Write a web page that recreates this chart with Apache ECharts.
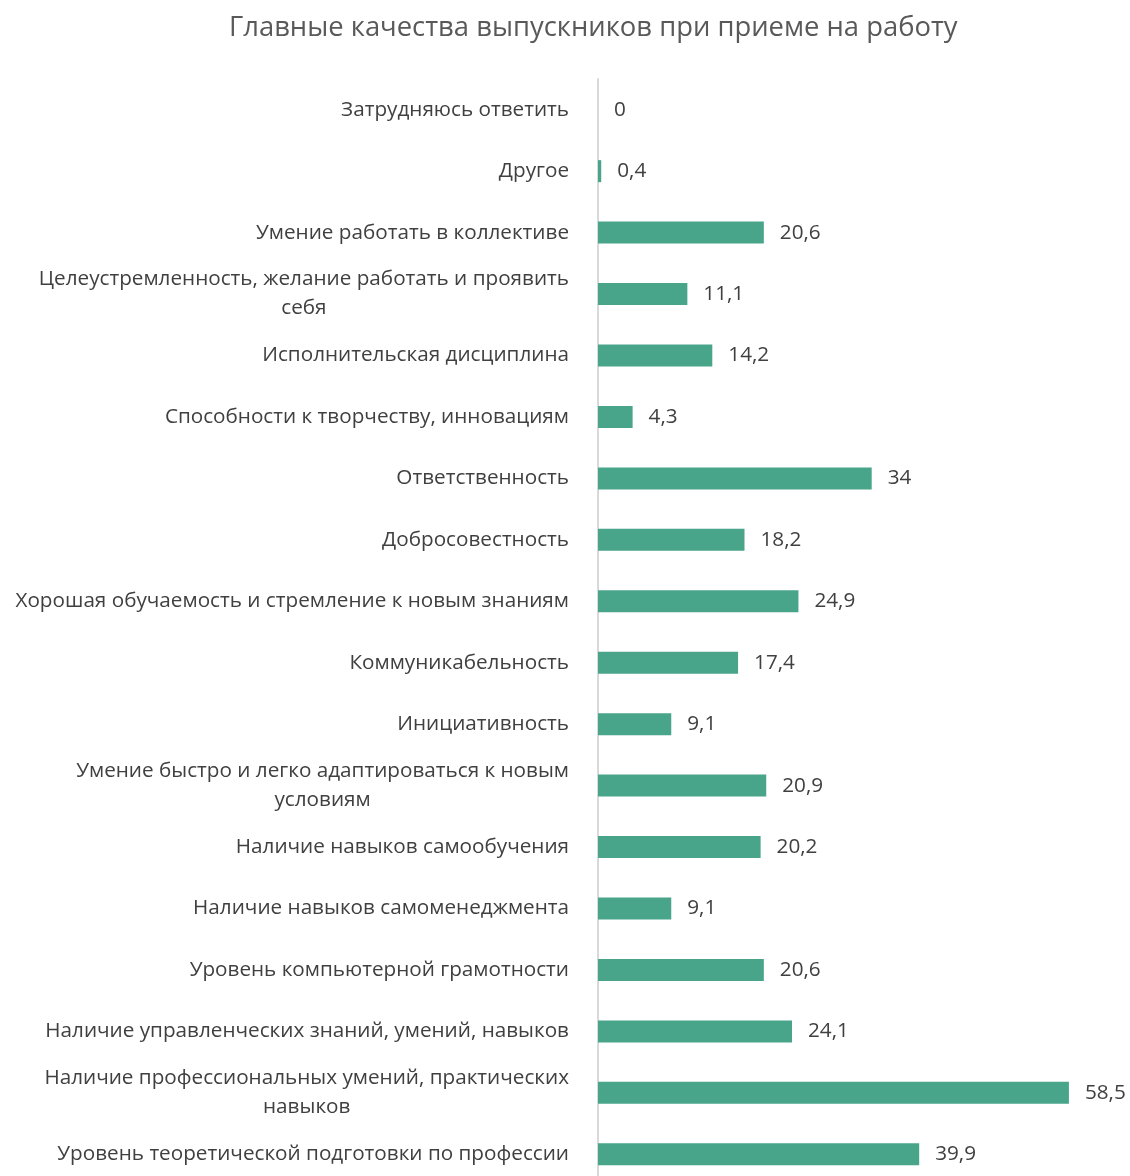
<!DOCTYPE html>
<html>
<head>
<meta charset="utf-8">
<script src="https://cdn.jsdelivr.net/npm/echarts@6/dist/echarts.min.js"></script>
<style>
  html, body { margin: 0; padding: 0; background: #fff; }
  #chart { width: 1130px; height: 1176px; }
</style>
</head>
<body>
<div id="chart"></div>
<script>
// top to bottom, as shown
const categories = [
  'Затрудняюсь ответить',
  'Другое',
  'Умение работать в коллективе',
  'Целеустремленность, желание работать и проявить\nсебя',
  'Исполнительская дисциплина',
  'Способности к творчеству, инновациям',
  'Ответственность',
  'Добросовестность',
  'Хорошая обучаемость и стремление к новым знаниям',
  'Коммуникабельность',
  'Инициативность',
  'Умение быстро и легко адаптироваться к новым\nусловиям',
  'Наличие навыков самообучения',
  'Наличие навыков самоменеджмента',
  'Уровень компьютерной грамотности',
  'Наличие управленческих знаний, умений, навыков',
  'Наличие профессиональных умений, практических\nнавыков',
  'Уровень теоретической подготовки по профессии'
];
const values = [0, 0.4, 20.6, 11.1, 14.2, 4.3, 34, 18.2, 24.9, 17.4, 9.1, 20.9, 20.2, 9.1, 20.6, 24.1, 58.5, 39.9];

const font = '"Open Sans", sans-serif';
const chart = echarts.init(document.getElementById('chart'));

chart.setOption({
  animation: false,
  textStyle: { fontFamily: font },
  title: {
    text: 'Главные качества выпускников при приеме на работу',
    left: 224,
    top: 10,
    textStyle: { fontSize: 27.4, fontWeight: 'normal', color: '#595959', fontFamily: font }
  },
  grid: { left: 598, top: 79, width: 483, height: 1106, outerBoundsMode: 'none' },
  xAxis: {
    type: 'value',
    min: 0,
    max: 60,
    show: false
  },
  yAxis: {
    type: 'category',
    inverse: true,
    data: categories,
    axisLine: { show: true, lineStyle: { color: '#d9d9d9', width: 2 } },
    axisTick: { show: false },
    axisLabel: {
      color: '#404040',
      fontSize: 20.7,
      margin: 29,
      lineHeight: 29,
      align: 'right',
      fontFamily: font,
      // wrapped lines are centred inside the right-aligned block
      formatter: v => v.split('\n').map(s => '{c|' + s + '}').join('\n'),
      rich: {
        c: { align: 'center', fontSize: 20.7, lineHeight: 29, color: '#404040', fontFamily: font }
      }
    }
  },
  series: [
    {
      type: 'bar',
      data: values,
      barWidth: 22,
      itemStyle: { color: '#49a58a' },
      label: {
        show: true,
        position: 'right',
        distance: 16,
        color: '#404040',
        fontSize: 20.7,
        fontFamily: font,
        formatter: p => String(p.value).replace('.', ',')
      }
    }
  ]
});
</script>
</body>
</html>
